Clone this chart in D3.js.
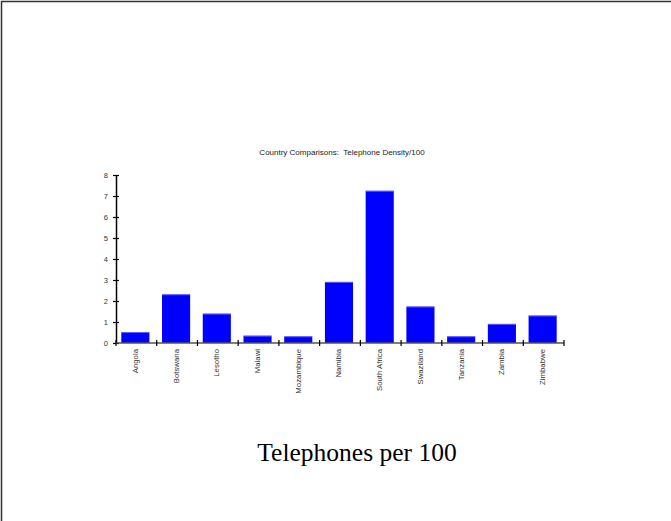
<!DOCTYPE html>
<html>
<head>
<meta charset="utf-8">
<script src="https://cdn.jsdelivr.net/npm/d3@7"></script>
<style>
  body { margin: 0; background: #fff; }
  svg { display: block; }
</style>
</head>
<body>
<div class="chart"></div>
<script>
var countries = ["Angola", "Botswana", "Lesotho", "Malawi", "Mozambique", "Namibia",
                 "South Africa", "Swaziland", "Tanzania", "Zambia", "Zimbabwe"];
var density = [0.52, 2.32, 1.40, 0.35, 0.32, 2.91, 7.25, 1.74, 0.32, 0.91, 1.31];
var yTicks = [0, 1, 2, 3, 4, 5, 6, 7, 8];

var W = 671, H = 521;
var margin = { top: 175, right: 107, bottom: 178, left: 116 },
    width = W - margin.left - margin.right,
    height = H - margin.top - margin.bottom;

var svg = d3.select(".chart").append("svg")
            .attr("width", W)
            .attr("height", H);

// page frame (only top and left edges visible)
svg.append("path")
   .attr("d", "M1.5," + H + "V1.5H" + W)
   .attr("fill", "none")
   .attr("stroke", "#333")
   .attr("stroke-width", 1.5);

var g = svg.append("g")
           .attr("transform", "translate(" + margin.left + "," + margin.top + ")");

var x = d3.scaleBand()
          .domain(countries)
          .range([0, width]);

var y = d3.scaleLinear()
          .domain([0, 8])
          .range([height, 0]);

var data = countries.map(function(c, i) { return { name: c, value: density[i] }; });

// bars
g.selectAll(".bar")
 .data(data)
 .enter().append("rect")
 .attr("class", "bar")
 .attr("x", function(d) { return x(d.name) + x.bandwidth() * 0.13; })
 .attr("width", x.bandwidth() * 0.69)
 .attr("y", function(d) { return y(d.value); })
 .attr("height", function(d) { return y(0) - y(d.value); })
 .attr("fill", "#0000ff");

g.selectAll(".bartop")
 .data(data)
 .enter().append("line")
 .attr("x1", function(d) { return x(d.name) + x.bandwidth() * 0.13; })
 .attr("x2", function(d) { return x(d.name) + x.bandwidth() * 0.82; })
 .attr("y1", function(d) { return y(d.value) + 0.5; })
 .attr("y2", function(d) { return y(d.value) + 0.5; })
 .attr("stroke", "#9a9aff")
 .attr("stroke-opacity", 0.6)
 .attr("stroke-width", 1);

// y axis
var yAxis = g.append("g")
   .call(d3.axisLeft(y).tickValues(yTicks).tickSize(3).tickSizeOuter(0));
yAxis.select(".domain").attr("stroke", "#000").attr("stroke-width", 1.5);
yAxis.selectAll(".tick line").attr("x2", 3).attr("x1", -3).attr("stroke-width", 1.2);
yAxis.selectAll(".tick text")
     .attr("x", -8)
     .attr("fill", "#333")
     .style("font-family", "Arial, 'Liberation Sans', sans-serif")
     .style("font-size", "7.5px");

// x axis
var xAxis = g.append("g")
   .attr("transform", "translate(0," + height + ")");
xAxis.append("line")
     .attr("x1", 0).attr("x2", width)
     .attr("stroke", "#555").attr("stroke-width", 1.5);
xAxis.selectAll(".xtick")
     .data(countries.concat(["end"]))
     .enter().append("line")
     .attr("x1", function(d, i) { return i * x.step(); })
     .attr("x2", function(d, i) { return i * x.step(); })
     .attr("y1", -3).attr("y2", 3)
     .attr("stroke", "#000").attr("stroke-width", 1.2);
xAxis.selectAll(".xlabel")
     .data(countries)
     .enter().append("text")
     .attr("transform", function(d) {
        return "translate(" + (x(d) + x.bandwidth() * 0.475 + 2.5) + ",6) rotate(-90)";
     })
     .attr("text-anchor", "end")
     .attr("fill", "#333")
     .style("font-family", "Arial, 'Liberation Sans', sans-serif")
     .style("font-size", "7.8px")
     .text(function(d) { return d; });

// title
svg.append("text")
   .attr("x", 342)
   .attr("y", 155)
   .attr("text-anchor", "middle")
   .attr("fill", "#222")
   .style("font-family", "Arial, 'Liberation Sans', sans-serif")
   .style("font-size", "8px")
   .style("white-space", "pre")
   .text("Country Comparisons:  Telephone Density/100");

// caption
svg.append("text")
   .attr("x", 357)
   .attr("y", 461)
   .attr("text-anchor", "middle")
   .attr("fill", "#000")
   .style("font-family", "'Liberation Serif', 'Times New Roman', serif")
   .style("font-size", "25.5px")
   .text("Telephones per 100");
</script>
</body>
</html>
